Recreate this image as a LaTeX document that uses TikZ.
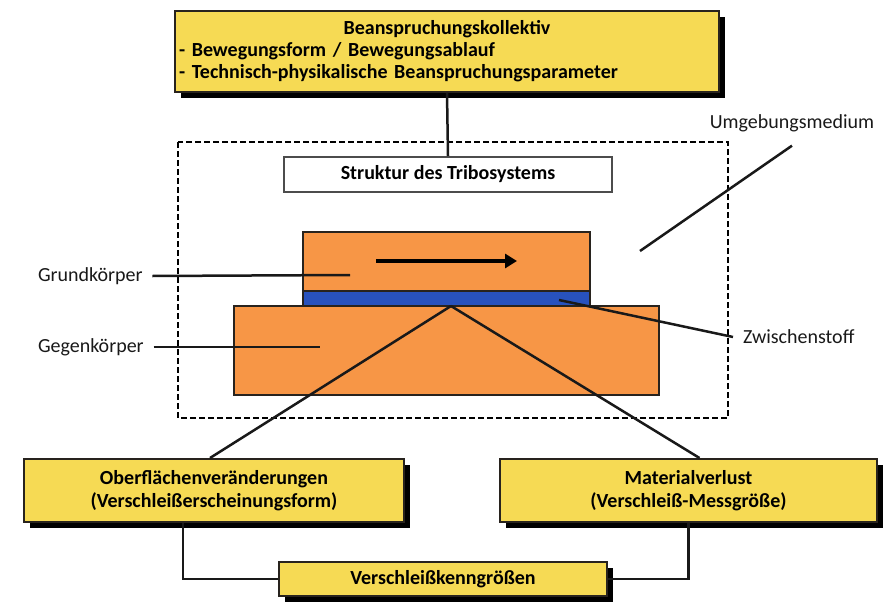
\documentclass[tikz,border=0pt]{standalone}
\usepackage{fontspec}
\setmainfont{Carlito}
\usetikzlibrary{arrows.meta,shadows}

\definecolor{kastengelb}{RGB}{246,218,84}
\definecolor{koerperorange}{RGB}{247,150,70}
\definecolor{stoffblau}{RGB}{40,82,190}
\definecolor{rand}{RGB}{40,35,30}

\begin{document}
\begin{tikzpicture}[x=1pt,y=-1pt,
  kasten/.style={draw=rand, line width=2pt, fill=kastengelb, inner sep=0pt, align=center,
    font=\bfseries\fontsize{20}{23}\selectfont,
    drop shadow={shadow xshift=6pt,shadow yshift=-6pt,fill=black,opacity=1}},
  koerper/.style={draw=rand, line width=2pt, fill=koerperorange, inner sep=0pt},
  beschr/.style={font=\fontsize{20}{22}\selectfont, text=black!90, inner sep=0pt, outer xsep=10pt, outer ysep=0pt},
  linie/.style={line width=2.5pt, draw=black!90}]

  \fill[white] (0,0) rectangle (886,602);
  \useasboundingbox (0,0) rectangle (886,602);

  %% Beanspruchungskollektiv and system border
  \draw[line width=2.8pt, dash pattern=on 6pt off 3pt] (178,142) rectangle (728,418);
  \node[kasten, minimum width=544pt, minimum height=81pt, text width=536pt, align=left,
    font=\bfseries\fontsize{20}{22}\selectfont] (kollektiv) at (447,51.5)
    {\hfill Beanspruchungskollektiv\hfill\null\\
     - Bewegungsform / Bewegungsablauf\\
     - Technisch-physikalische Beanspruchungsparameter};
  \node[draw=black!70, line width=2pt, fill=white, minimum width=328pt, minimum height=35pt,
    font=\bfseries\fontsize{20}{22}\selectfont] (struktur) at (448,174.5) {Struktur des Tribosystems};
  \draw[linie] (kollektiv.south) -- (struktur.north);

  %% Koerper
  \node[koerper, minimum width=425pt, minimum height=89pt] (gegen) at (446.5,350.5) {};
  \node[koerper, minimum width=287pt, minimum height=59pt] (grund) at (446.5,261.5) {};
  \node[koerper, fill=stoffblau, minimum width=287pt, minimum height=15pt] (stoff) at (446.5,298.5) {};
  \coordinate (bewegA) at (376,261);
  \coordinate (bewegB) at (517,261);
  \draw[line width=3.6pt, -{Triangle[length=12pt,width=14pt]}] (bewegA) -- (bewegB);

  %% Beschriftungen
  \node[beschr, anchor=west] (lgrund) at (28,276) {Grundkörper};
  \node[beschr, anchor=west] (lgegen) at (28,347) {Gegenkörper};
  \node[beschr, anchor=west] (lstoff) at (733,337) {Zwischenstoff};
  \node[beschr] (lumgebung) at (792,123) {Umgebungsmedium};
  \coordinate (grundPkt) at (350,275);
  \coordinate (gegenPkt) at (320,347);
  \coordinate (stoffPkt) at (559,300);
  \coordinate (umgEnde) at (640,251);
  \draw[linie] (lgrund.east) -- (grundPkt);
  \draw[linie] (lgegen.east) -- (gegenPkt);
  \draw[linie] (stoffPkt) -- (lstoff.west);
  \draw[linie] ([yshift=-14pt]lumgebung.south) -- (umgEnde);

  %% Verschleisskenngroessen
  \node[kasten, minimum width=380pt, minimum height=63pt] (oberfl) at (214,490.5)
    {Oberflächenveränderungen\\(Verschleißerscheinungsform)};
  \node[kasten, minimum width=377pt, minimum height=63pt] (material) at (688.5,490.5)
    {Materialverlust\\(Verschleiß-Messgröße)};
  \node[kasten, minimum width=328pt, minimum height=34pt] (kenngr) at (443,579) {Verschleißkenngrößen};

  \coordinate (kontakt) at (451,306);
  \draw[linie] (kontakt) -- ([xshift=-4pt]oberfl.north);
  \draw[linie] (kontakt) -- ([xshift=11pt]material.north);
  \draw[linie] ([xshift=-31pt]oberfl.south) |- (kenngr.west);
  \draw[linie] (material.south) |- (kenngr.east);

\end{tikzpicture}
\end{document}
